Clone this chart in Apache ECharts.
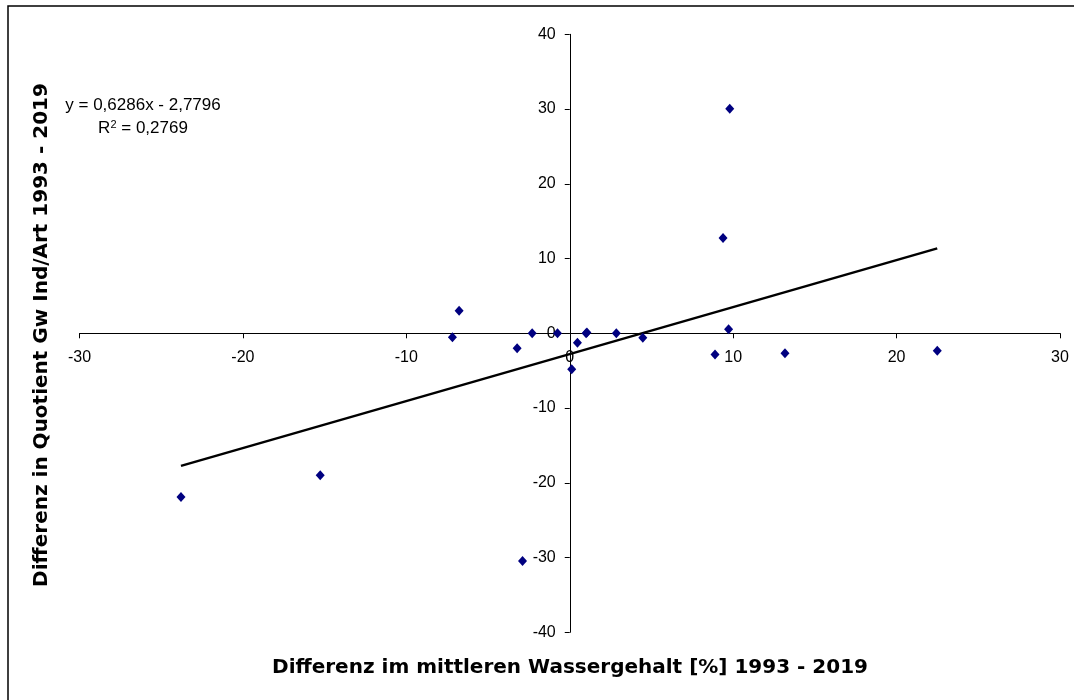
<!DOCTYPE html>
<html>
<head>
<meta charset="utf-8">
<script src="https://cdn.jsdelivr.net/npm/echarts@6/dist/echarts.min.js"></script>
<style>
  html, body { margin: 0; padding: 0; background: #fff; }
  #chart { width: 1074px; height: 700px; }
</style>
</head>
<body>
<div id="chart"></div>
<script>
// Differenz Wassergehalt (x) vs. Differenz Quotient Gw Ind/Art (y)
const diffWater = [-23.79, -15.27, -7.18, -6.77, -3.22, -2.89, -2.3, -0.75, 0.12, 0.47,
  1.0, 1.05, 2.85, 4.47, 8.89, 9.38, 9.72, 9.79, 13.17, 22.49];
const diffQuot = [-21.9, -19.0, -0.54, 3.02, -2.0, -30.46, 0, 0, -4.82, -1.25,
  0, 0.1, 0, -0.58, -2.85, 12.75, 0.53, 30.05, -2.68, -2.32];

const slope = 0.6286;
const intercept = -2.7796;
const eqText = 'y = 0,6286x - 2,7796';
const r2Text = '0,2769';

const xTitle = 'Differenz im mittleren Wassergehalt [%] 1993 - 2019';
const yTitle = 'Differenz in Quotient Gw Ind/Art 1993 - 2019';

const points = diffWater.map((x, i) => [x, diffQuot[i]]);
const xMin = Math.min(...diffWater), xMax = Math.max(...diffWater);
const trend = [[xMin, slope * xMin + intercept], [xMax, slope * xMax + intercept]];

const font = '"Liberation Sans", Arial, sans-serif';
const titleFont = 'bold 20px "DejaVu Sans", sans-serif';
const chart = echarts.init(document.getElementById('chart'));

// plot box, axes are shifted onto the zero lines with offsets
const gLeft = 79.5, gRight = 14, gTop = 34.3, gBottom = 67.7;
const plotW = 1074 - gLeft - gRight, plotH = 700 - gTop - gBottom;
const yAxisOffset = -plotW / 2;   // x = 0 sits mid-width
const xAxisOffset = -plotH / 2;   // y = 0 sits mid-height

chart.setOption({
  animation: false,
  backgroundColor: '#fff',
  grid: { left: gLeft, right: gRight, top: gTop, bottom: gBottom },
  xAxis: {
    type: 'value', min: -30, max: 30, interval: 10,
    position: 'bottom', offset: xAxisOffset,
    axisLine: { onZero: false, lineStyle: { color: '#000', width: 1 } },
    axisTick: { show: true, length: 5, lineStyle: { color: '#000' } },
    axisLabel: { color: '#000', fontSize: 16, fontFamily: font, margin: 16 },
    splitLine: { show: false }
  },
  yAxis: {
    type: 'value', min: -40, max: 40, interval: 10,
    position: 'left', offset: yAxisOffset,
    axisLine: { show: true, onZero: false, lineStyle: { color: '#000', width: 1 } },
    axisTick: { show: true, length: 5, lineStyle: { color: '#000' } },
    axisLabel: { color: '#000', fontSize: 16, fontFamily: font, margin: 14 },
    splitLine: { show: false }
  },
  series: [
    {
      type: 'line',
      data: trend,
      symbol: 'none',
      lineStyle: { color: '#000', width: 2.5 },
      z: 1
    },
    {
      type: 'scatter',
      data: points,
      symbol: 'diamond',
      symbolSize: [9, 10],
      itemStyle: { color: '#000080', opacity: 1 },
      z: 3
    }
  ],
  graphic: [
    {
      type: 'rect', x: 8, y: 6,
      shape: { width: 1080, height: 720 },
      style: { fill: 'none', stroke: '#000', lineWidth: 1.5 }
    },
    {
      type: 'text', x: 570, y: 668,
      style: {
        text: xTitle, font: titleFont, fill: '#000',
        align: 'center', verticalAlign: 'middle'
      }
    },
    {
      type: 'text', x: 42, y: 335, rotation: Math.PI / 2,
      style: {
        text: yTitle, font: titleFont, fill: '#000',
        align: 'center', verticalAlign: 'middle'
      }
    },
    {
      type: 'text', x: 143, y: 105,
      style: {
        text: eqText, font: '17px ' + font, fill: '#000',
        align: 'center', verticalAlign: 'middle'
      }
    },
    {
      type: 'text', x: 143, y: 128,
      style: {
        text: '{r|R}{s|2}{r| = ' + r2Text + '}',
        align: 'center', verticalAlign: 'middle',
        rich: {
          r: { font: '17px ' + font, fill: '#000', verticalAlign: 'bottom' },
          s: { font: '11px ' + font, fill: '#000', verticalAlign: 'top' }
        }
      }
    }
  ]
});
</script>
</body>
</html>
